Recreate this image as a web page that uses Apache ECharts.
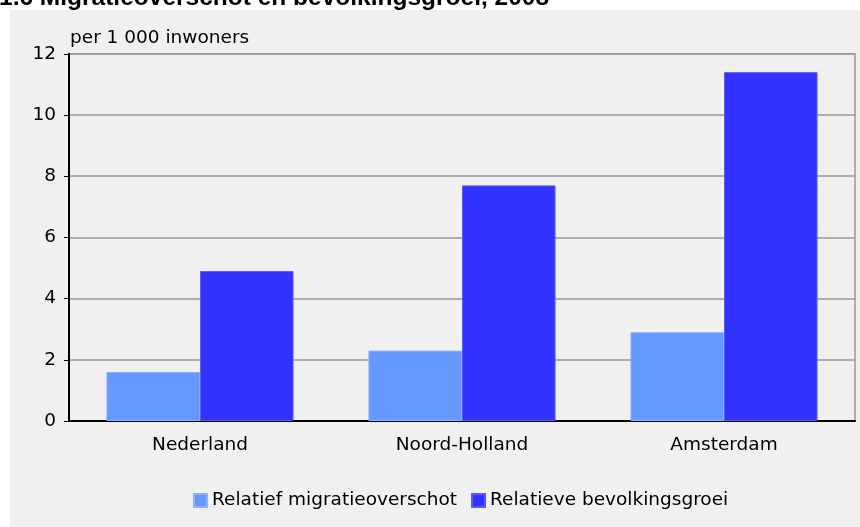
<!DOCTYPE html>
<html>
<head>
<meta charset="utf-8">
<script src="https://cdn.jsdelivr.net/npm/echarts@6/dist/echarts.min.js"></script>
<style>
html,body{margin:0;padding:0;background:#ffffff;}
#chart{width:860px;height:527px;}
</style>
</head>
<body>
<div id="chart"></div>
<script>
const titleText = '1.6 Migratieoverschot en bevolkingsgroei, 2008';
const unitText = 'per 1 000 inwoners';
const categories = ['Nederland', 'Noord-Holland', 'Amsterdam'];
const seriesNames = ['Relatief migratieoverschot', 'Relatieve bevolkingsgroei'];
const migratieoverschot = [1.6, 2.3, 2.9];
const bevolkingsgroei = [4.9, 7.7, 11.4];
const yTicks = [0, 2, 4, 6, 8, 10, 12];

const FONT = 'DejaVu Sans';
const chart = echarts.init(document.getElementById('chart'), null, {renderer: 'canvas'});
chart.setOption({
  backgroundColor: '#ffffff',
  animation: false,
  title: {
    text: titleText,
    left: -1,
    top: -14,
    padding: 0,
    textStyle: {fontFamily: 'Liberation Sans', fontWeight: 'bold', fontSize: 24.5, color: '#000'}
  },
  graphic: [
    {type: 'rect', z: -10, shape: {x: 10, y: 10, width: 850, height: 517}, style: {fill: '#f0f0f0'}, silent: true},
    {type: 'text', left: 70, top: 29, style: {text: unitText, font: '18.5px "DejaVu Sans"', fill: '#000'}}
  ],
  legend: {
    left: 188,
    top: 486,
    itemWidth: 13,
    itemHeight: 13,
    itemGap: 14,
    icon: 'rect',
    textStyle: {fontFamily: FONT, fontSize: 18.5, color: '#000'},
    data: seriesNames
  },
  grid: {
    left: 69, right: 5, top: 53.8, bottom: 106,
    show: true, borderColor: '#999999', borderWidth: 1.5, backgroundColor: 'transparent'
  },
  xAxis: {
    type: 'category',
    data: categories,
    axisLine: {lineStyle: {color: '#000', width: 2}},
    axisTick: {show: false},
    axisLabel: {fontFamily: FONT, fontSize: 18.5, color: '#000', margin: 15}
  },
  yAxis: {
    type: 'value',
    min: yTicks[0],
    max: yTicks[yTicks.length - 1],
    interval: 2,
    axisLine: {show: true, lineStyle: {color: '#000', width: 2}},
    axisTick: {show: true, length: 5, lineStyle: {color: '#000', width: 1}},
    axisLabel: {fontFamily: FONT, fontSize: 18.5, color: '#000', margin: 13},
    splitLine: {lineStyle: {color: '#999999', width: 1.5}}
  },
  series: [
    {
      name: seriesNames[0], type: 'bar', data: migratieoverschot,
      barGap: '0%', barCategoryGap: '28.6%',
      itemStyle: {color: '#6699ff', borderColor: '#8db0ff', borderWidth: 1}
    },
    {
      name: seriesNames[1], type: 'bar', data: bevolkingsgroei,
      barGap: '0%', barCategoryGap: '28.6%',
      itemStyle: {color: '#3333ff', borderColor: '#5a5aff', borderWidth: 1}
    }
  ]
});
</script>
</body>
</html>
